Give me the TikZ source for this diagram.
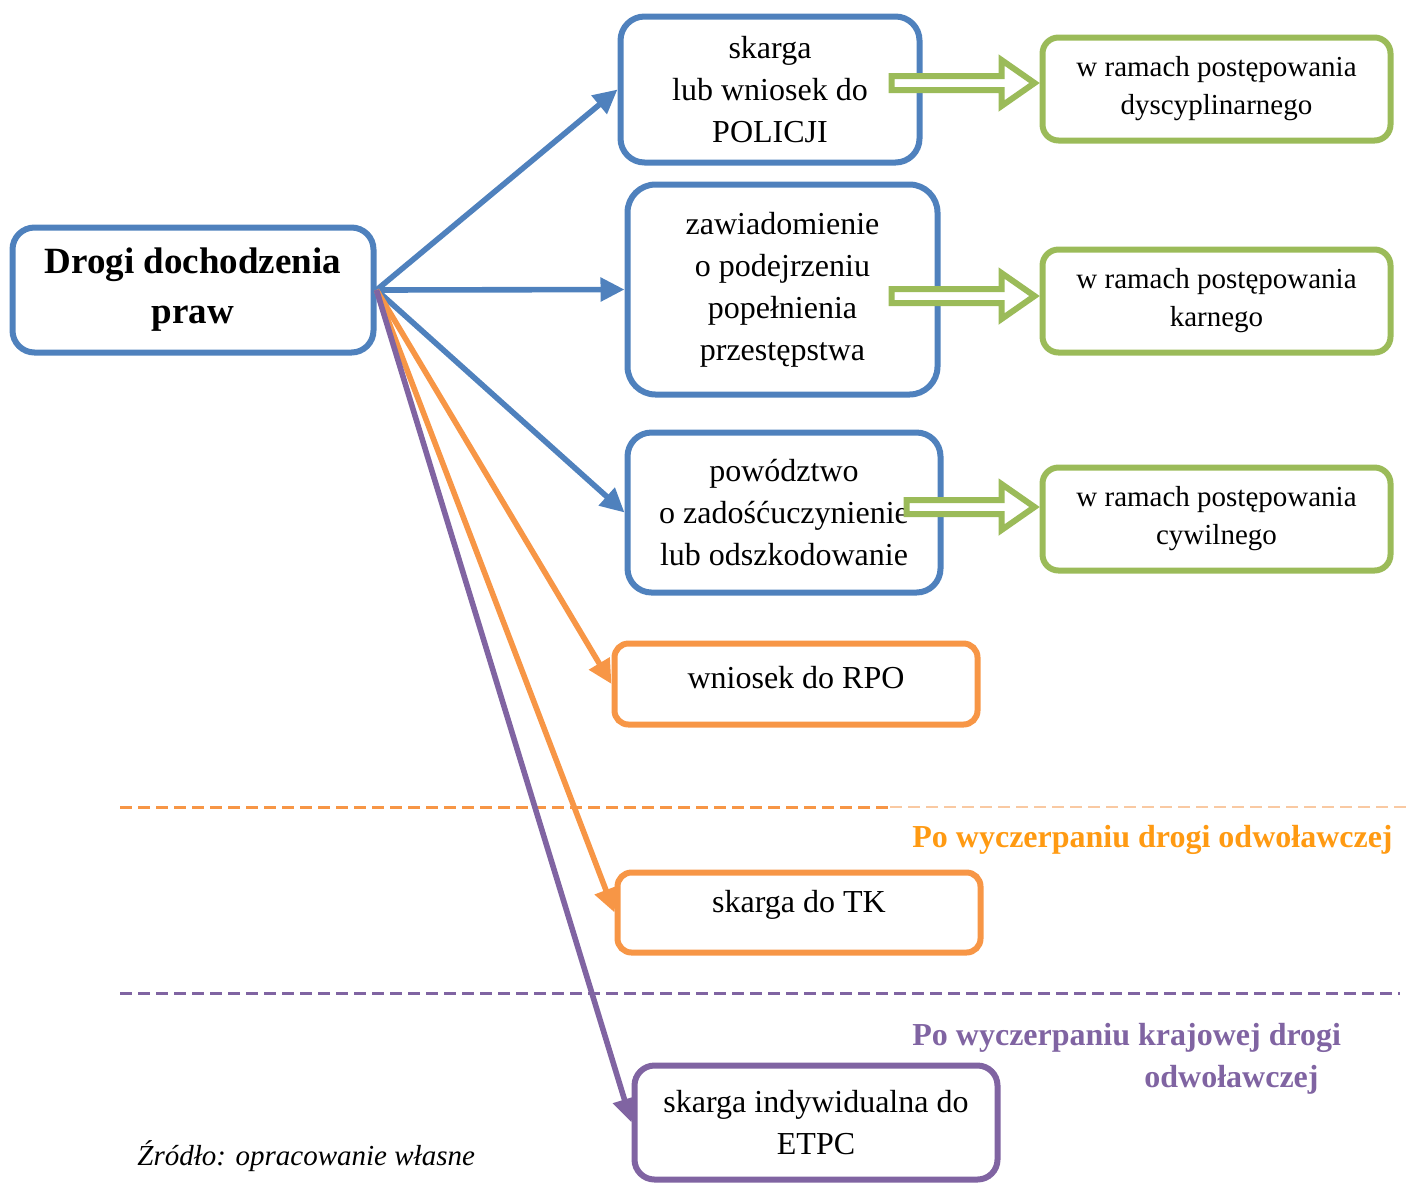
\documentclass[tikz,border=0pt]{standalone}
\usepackage{fontspec}
\setmainfont{Liberation Serif}
\usetikzlibrary{arrows.meta}
\definecolor{drogablue}{HTML}{4F81BD}
\definecolor{drogagreen}{HTML}{9BBB59}
\definecolor{drogaorange}{HTML}{F79646}
\definecolor{drogapurple}{HTML}{8064A2}
\definecolor{labelorange}{HTML}{FF9A12}
\definecolor{paleorange}{HTML}{F9C9A2}
\begin{document}
\begin{tikzpicture}[x=0.5pt,y=-0.5pt,
  box/.style={draw,line width=3pt,rounded corners=12pt,align=center,inner sep=0pt,
    font=\fontsize{16}{21}\selectfont},
  bluebox/.style={box,draw=drogablue},
  orangebox/.style={box,draw=drogaorange,rounded corners=7pt},
  greenbox/.style={box,draw=drogagreen,rounded corners=8pt,minimum width=174pt,minimum height=51.5pt,
    font=\fontsize{14.5}{19}\selectfont},
  link/.style={line width=2.8pt,-{Triangle[length=12pt,width=11.5pt]}},
  hollow/.style={draw=drogagreen,fill=white,line width=3pt},
  cut/.style={line width=1.5pt,dash pattern=on 6pt off 3pt},
  boundlabel/.style={anchor=north west,inner sep=0pt,align=left,font=\fontsize{16}{21}\selectfont\bfseries}]
  \useasboundingbox (0,0) rectangle (1406,1185);
  % main box
  \node[bluebox,rounded corners=11pt,minimum width=180.5pt,minimum height=62.5pt,
    font=\fontsize{18.5}{25}\selectfont\bfseries] (drogi) at (193,290) {Drogi dochodzenia\\praw};
  % blue paths
  \node[bluebox,minimum width=149.5pt,minimum height=73pt] (policja) at (770,89.5)
    {skarga\\lub wniosek do\\POLICJI};
  \node[bluebox,rounded corners=14pt,minimum width=155pt,minimum height=105pt] (zawiad) at (782.5,289.5)
    {zawiadomienie\\o podejrzeniu\\popełnienia\\przestępstwa};
  \node[bluebox,minimum width=156.5pt,minimum height=80pt] (powod) at (784,512.5)
    {powództwo\\o zadośćuczynienie\\lub odszkodowanie};
  % orange and purple paths
  \node[orangebox,minimum width=181.5pt,minimum height=40.5pt,text depth=7pt] (rpo) at (796,684)
    {wniosek do RPO};
  \node[orangebox,minimum width=181.5pt,minimum height=40pt,text depth=11.5pt] (tk) at (799,912.5)
    {skarga do TK};
  \node[box,draw=drogapurple,rounded corners=10pt,minimum width=181.5pt,minimum height=57pt] (etpc)
    at (816,1122.5) {skarga indywidualna do\\ETPC};
  % proceedings
  \node[greenbox] (dyscypl) at (1216.5,89) {w ramach postępowania\\dyscyplinarnego};
  \node[greenbox] (karne) at (1216.5,301) {w ramach postępowania\\karnego};
  \node[greenbox] (cywilne) at (1216.5,519) {w ramach postępowania\\cywilnego};
  % thresholds
  \draw[cut,drogaorange] (120,807) -- (890,807);
  \draw[cut,paleorange,line width=0.8pt] (890,807) -- (1406,807);
  \draw[cut,drogapurple] (120,993) -- (1400,993);
  \node[boundlabel,text=labelorange] (prog1) at (912,825) {Po wyczerpaniu drogi odwoławczej};
  \node[boundlabel,text=drogapurple] (prog2) at (912,1023)
    {Po wyczerpaniu krajowej drogi\\\hspace*{116pt}odwoławczej};
  % arrows
  \draw[link,drogablue] (drogi.east) -- (policja.west);
  \draw[link,drogablue] (drogi.east) -- (zawiad.west);
  \draw[link,drogablue] (drogi.east) -- (powod.west);
  \draw[link,drogaorange] (drogi.east) -- (rpo.west);
  \draw[link,drogaorange] (drogi.east) -- (tk.west);
  \draw[link,drogapurple] (drogi.east) -- (etpc.west);
  \draw[hollow] (dyscypl.west) ++(-5,-6) -- ++(-33,-23) -- ++(0,16) -- ++(-110,0) -- ++(0,14)
    -- ++(110,0) -- ++(0,16) -- cycle;
  \draw[hollow] (karne.west) ++(-5,-5) -- ++(-33,-23) -- ++(0,16) -- ++(-110,0) -- ++(0,14)
    -- ++(110,0) -- ++(0,16) -- cycle;
  \draw[hollow] (cywilne.west) ++(-5,-12) -- ++(-33,-23) -- ++(0,16) -- ++(-95,0) -- ++(0,14)
    -- ++(95,0) -- ++(0,16) -- cycle;
  \node[anchor=base west,inner sep=0pt,font=\fontsize{14.5}{19}\selectfont\itshape] (zrodlo)
    at (137,1165) {Źródło: opracowanie własne};
\end{tikzpicture}
\end{document}
